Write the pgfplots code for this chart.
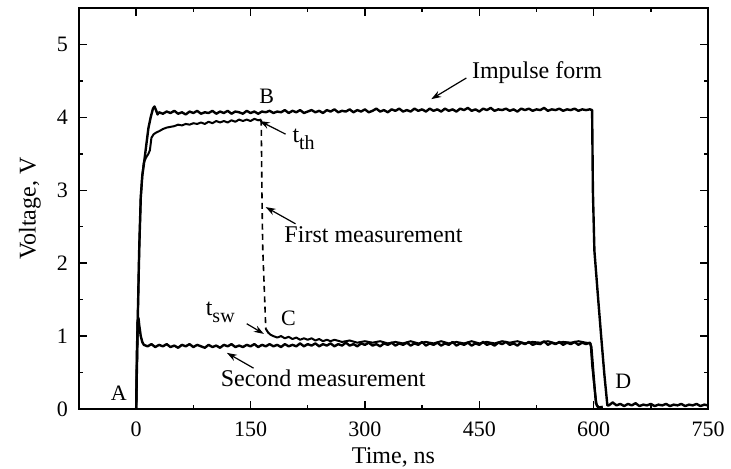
\documentclass[border=0pt]{standalone}
\usepackage{fontspec}
\setmainfont{Liberation Serif}
\usepackage{pgfplots}
\pgfplotsset{compat=1.18}
\usetikzlibrary{arrows.meta}
\newcommand{\sub}[1]{\raisebox{-3.5pt}{\fontsize{10}{10}\selectfont #1}}
\begin{document}
\begin{tikzpicture}
\path[use as bounding box] (-39.5pt,-29.5pt) rectangle (326pt,204.5pt);
\begin{axis}[
  at={(0pt,0pt)}, anchor=south west,
  scale only axis, width=314.5pt, height=200.5pt,
  xmin=-75, xmax=750, ymin=0, ymax=5.5,
  xtick={0,150,...,750}, minor x tick num=1,
  ytick={0,1,2,3,4,5}, minor y tick num=1,
  tick align=inside, tick pos=both,
  major tick length=4pt, minor tick length=2.2pt,
  axis line style={line width=0.8pt},
  every tick/.style={line width=0.7pt, black},
  /pgf/number format/assume math mode=true,
  tick label style={font=\fontsize{11}{13}\selectfont},
  xticklabel style={yshift=-3pt},
  yticklabel style={xshift=-2pt},
  every axis x label/.style={at={(axis description cs:0.5,0)}, yshift=-24pt, anchor=center, font=\fontsize{12}{14}\selectfont},
  every axis y label/.style={at={(axis description cs:0,0.5)}, xshift=-24.5pt, rotate=90, anchor=center, font=\fontsize{12}{14}\selectfont},
  xlabel={Time, ns}, ylabel={Voltage, V},
]
% Impulse form
\addplot[black, line width=1.2pt, line join=round] coordinates {
(0,0) (2,1.2) (4,2.2) (6,2.9) (8,3.2) (10,3.35) (13,3.6) (16,3.85) (19,4.0) (22,4.12) (24,4.15) (26,4.1) (28,4.04) (30,4.07)
(35,4.05) (40,4.08) (45,4.06) (50,4.09) (55,4.05) (60,4.07) (65,4.04) (70,4.08) (75,4.06) (80,4.09) (85,4.05) (90,4.07) (95,4.06) (100,4.09)
(105,4.05) (110,4.08) (115,4.06) (120,4.09) (125,4.05) (130,4.08) (135,4.07) (140,4.05) (145,4.09) (150,4.06) (155,4.08) (160,4.05) (165,4.08)
(170,4.07) (175,4.09) (180,4.06) (185,4.08) (190,4.07) (195,4.10) (200,4.06) (205,4.09) (210,4.07) (215,4.10) (220,4.06) (225,4.08) (230,4.10)
(235,4.07) (240,4.09) (245,4.06) (250,4.10) (255,4.08) (260,4.11) (265,4.07) (270,4.09) (275,4.08) (280,4.11) (285,4.07) (290,4.10) (295,4.08)
(300,4.11) (305,4.07) (310,4.09) (315,4.12) (320,4.08) (325,4.10) (330,4.07) (335,4.11) (340,4.09) (345,4.12) (350,4.08) (355,4.10) (360,4.08)
(365,4.12) (370,4.09) (375,4.11) (380,4.08) (385,4.12) (390,4.09) (395,4.11) (400,4.08) (405,4.12) (410,4.09) (415,4.11) (420,4.08) (425,4.12)
(430,4.10) (435,4.13) (440,4.09) (445,4.11) (450,4.08) (455,4.12) (460,4.10) (465,4.13) (470,4.09) (475,4.11) (480,4.10) (485,4.12) (490,4.09)
(495,4.11) (500,4.08) (505,4.12) (510,4.10) (515,4.12) (520,4.09) (525,4.11) (530,4.10) (535,4.13) (540,4.09) (545,4.11) (550,4.10) (555,4.12)
(560,4.09) (565,4.11) (570,4.10) (575,4.12) (580,4.09) (585,4.11) (590,4.10) (595,4.11) (598,4.10)
(599,3.0) (601,2.17) (606,1.5) (610,0.98) (614,0.48) (618,0.05)
(620,0.05) (625,0.09) (630,0.05) (635,0.07) (640,0.04) (645,0.07) (650,0.05) (655,0.08) (660,0.04) (665,0.06) (670,0.05) (675,0.07)
(680,0.04) (685,0.06) (690,0.05) (695,0.07) (700,0.04) (705,0.06) (710,0.05) (715,0.07) (720,0.04) (725,0.06) (730,0.05) (735,0.07)
(740,0.04) (745,0.06) (750,0.05)
};
% First measurement, before the switch
\addplot[black, line width=1.0pt, line join=round] coordinates {
(0,0) (2,1.2) (4,2.2) (6,2.9) (8,3.2) (10,3.38) (13,3.45) (16,3.5) (18,3.55) (20,3.72) (23,3.77) (26,3.79) (30,3.81) (35,3.84) (40,3.86)
(45,3.87) (50,3.88) (55,3.90) (60,3.89) (65,3.91) (70,3.90) (75,3.92) (80,3.91) (85,3.93) (90,3.91) (95,3.94) (100,3.92) (105,3.95)
(110,3.93) (115,3.95) (120,3.93) (125,3.96) (130,3.94) (135,3.97) (140,3.95) (145,3.97) (150,3.95) (155,3.98) (160,3.96) (164,3.97)
};
% First measurement, switching (dashed)
\addplot[black, line width=0.8pt, dash pattern=on 3pt off 2.2pt] coordinates {
(164,3.97) (165,2.9) (166,2.2) (170,1.1)
};
% First measurement, after the switch
\addplot[black, line width=1.0pt, line join=round] coordinates {
(170,1.1) (173,1.05) (176,1.02) (180,1.00) (185,0.98) (190,1.00) (195,0.97) (200,0.99) (205,0.96) (210,0.98) (215,0.95) (220,0.97)
(225,0.95) (230,0.97) (235,0.94) (240,0.96) (245,0.93) (250,0.95) (255,0.93) (260,0.95) (270,0.92) (280,0.94) (290,0.91) (300,0.93)
(310,0.91) (320,0.93) (330,0.90) (340,0.92) (350,0.90) (360,0.93) (370,0.90) (380,0.92) (390,0.90) (400,0.93) (410,0.90) (420,0.92)
(430,0.90) (440,0.93) (450,0.90) (460,0.92) (470,0.90) (480,0.93) (490,0.91) (500,0.93) (510,0.90) (520,0.92) (530,0.91) (540,0.93)
(550,0.90) (560,0.92) (570,0.91) (580,0.93) (590,0.91) (596,0.90) (598,0.6) (601,0.3) (604,0.05) (607,0.02)
};
% Second measurement
\addplot[black, line width=1.2pt, line join=round] coordinates {
(0,0) (1,0.8) (2,1.2) (3,1.25) (4,1.15) (6,1.0) (8,0.92) (10,0.88)
(15,0.86) (20,0.89) (25,0.85) (30,0.88) (35,0.86) (40,0.89) (45,0.85) (50,0.87) (55,0.84) (60,0.88) (65,0.86) (70,0.89) (75,0.85)
(80,0.88) (85,0.86) (90,0.84) (95,0.88) (100,0.85) (105,0.87) (110,0.84) (115,0.88) (120,0.86) (125,0.89) (130,0.85) (135,0.87)
(140,0.85) (145,0.88) (150,0.86) (155,0.89) (160,0.85) (165,0.88) (170,0.86) (175,0.89) (180,0.86) (185,0.88) (190,0.85) (195,0.89)
(200,0.86) (205,0.88) (210,0.86) (215,0.90) (220,0.86) (225,0.89) (230,0.87) (235,0.90) (240,0.86) (245,0.89) (250,0.87) (255,0.90)
(260,0.86) (265,0.89) (270,0.87) (275,0.91) (280,0.87) (285,0.89) (290,0.86) (295,0.90) (300,0.88) (305,0.91) (310,0.87) (315,0.89)
(320,0.86) (325,0.90) (330,0.88) (335,0.91) (340,0.87) (345,0.90) (350,0.88) (355,0.91) (360,0.87) (365,0.90) (370,0.88) (375,0.92)
(380,0.87) (385,0.90) (390,0.88) (395,0.91) (400,0.87) (405,0.90) (410,0.88) (415,0.92) (420,0.87) (425,0.90) (430,0.88) (435,0.91)
(440,0.87) (445,0.90) (450,0.88) (455,0.92) (460,0.88) (465,0.90) (470,0.87) (475,0.91) (480,0.89) (485,0.92) (490,0.88) (495,0.90)
(500,0.87) (505,0.91) (510,0.89) (515,0.92) (520,0.88) (525,0.90) (530,0.89) (535,0.93) (540,0.88) (545,0.91) (550,0.89) (555,0.92)
(560,0.88) (565,0.91) (570,0.89) (575,0.92) (580,0.88) (585,0.91) (590,0.89) (595,0.91) (597,0.85) (600,0.45) (603,0.08) (606,0.02) (612,0.03)
};
% annotations
\begin{scope}[every node/.style={inner sep=0pt, anchor=base west}]
\node[font=\fontsize{11}{13}\selectfont] at (axis cs:-33.8,0.123) {A};
\node[font=\fontsize{11}{13}\selectfont] at (axis cs:161,4.19) {B};
\node[font=\fontsize{11}{13}\selectfont] at (axis cs:189.5,1.15) {C};
\node[font=\fontsize{11}{13}\selectfont] at (axis cs:628,0.287) {D};
\node[font=\fontsize{12}{14}\selectfont] at (axis cs:440,4.535) {Impulse form};
\node[font=\fontsize{12}{14}\selectfont] at (axis cs:194,2.28) {First measurement};
\node[font=\fontsize{12}{14}\selectfont] at (axis cs:110.5,0.305) {Second measurement};
\node[font=\fontsize{12}{14}\selectfont] at (axis cs:204.5,3.65) {t\sub{th}};
\node[font=\fontsize{12}{14}\selectfont] at (axis cs:90.8,1.28) {t\sub{sw}};
\end{scope}
\begin{scope}[line width=0.6pt, -{Stealth[length=5pt,width=3.4pt]}]
\draw (axis cs:433,4.54) -- (axis cs:387,4.25);
\draw (axis cs:196,3.77) -- (axis cs:162,3.95);
\draw (axis cs:209,2.54) -- (axis cs:169.8,2.77);
\draw (axis cs:145,1.17) -- (axis cs:167.5,1.03);
\draw (axis cs:154,0.56) -- (axis cs:119,0.77);
\end{scope}
\end{axis}
\end{tikzpicture}
\end{document}
